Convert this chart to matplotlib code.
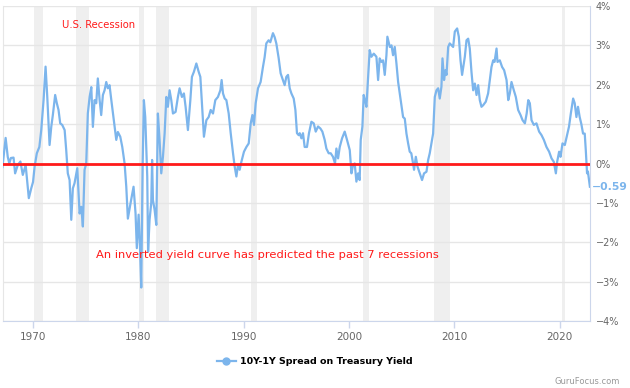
import numpy as np
import matplotlib
matplotlib.use("Agg")
import matplotlib.pyplot as plt
from matplotlib.lines import Line2D

# 10Y-1Y spread (%)
years = [
    1967.10, 1967.40, 1967.60, 1967.75, 1967.90, 1968.15, 1968.30, 1968.55, 1968.80, 1969.03,
    1969.30, 1969.60, 1969.83, 1970.00, 1970.15, 1970.36, 1970.60, 1970.78, 1971.00, 1971.19,
    1971.35, 1971.57, 1971.73, 1971.88, 1972.10, 1972.26, 1972.42, 1972.58, 1972.77, 1973.00,
    1973.15, 1973.30, 1973.47, 1973.63, 1973.78, 1973.94, 1974.20, 1974.42, 1974.58, 1974.73,
    1974.89, 1975.05, 1975.20, 1975.37, 1975.53, 1975.68, 1975.84, 1976.00, 1976.15, 1976.32,
    1976.47, 1976.63, 1976.79, 1976.95, 1977.10, 1977.26, 1977.43, 1977.67, 1977.90, 1978.05,
    1978.28, 1978.47, 1978.69, 1978.85, 1979.00, 1979.26, 1979.54, 1979.73, 1979.85, 1980.02,
    1980.14, 1980.27, 1980.40, 1980.52, 1980.65, 1980.84, 1980.92, 1981.06, 1981.22, 1981.30,
    1981.38, 1981.54, 1981.70, 1981.85, 1982.01, 1982.17, 1982.33, 1982.49, 1982.65, 1982.80,
    1982.96, 1983.12, 1983.28, 1983.53, 1983.75, 1983.91, 1984.13, 1984.32, 1984.48, 1984.70,
    1984.93, 1985.08, 1985.27, 1985.50, 1985.72, 1985.88, 1986.03, 1986.22, 1986.45, 1986.67,
    1986.86, 1987.08, 1987.30, 1987.55, 1987.78, 1987.90, 1988.03, 1988.19, 1988.35, 1988.57,
    1988.76, 1988.98, 1989.14, 1989.30, 1989.45, 1989.61, 1989.77, 1990.02, 1990.25, 1990.47,
    1990.66, 1990.82, 1990.97, 1991.13, 1991.35, 1991.60, 1991.82, 1991.98, 1992.14, 1992.36,
    1992.52, 1992.77, 1992.93, 1993.09, 1993.31, 1993.50, 1993.72, 1993.88, 1994.04, 1994.20,
    1994.36, 1994.52, 1994.74, 1994.90, 1995.05, 1995.21, 1995.31, 1995.47, 1995.62, 1995.78,
    1996.00, 1996.19, 1996.42, 1996.64, 1996.83, 1997.05, 1997.27, 1997.46, 1997.68, 1997.84,
    1998.06, 1998.25, 1998.47, 1998.66, 1998.79, 1998.95, 1999.11, 1999.33, 1999.58, 1999.80,
    2000.06, 2000.22, 2000.37, 2000.53, 2000.69, 2000.85, 2001.00, 2001.10, 2001.26, 2001.38,
    2001.54, 2001.64, 2001.80, 2001.95, 2002.11, 2002.34, 2002.59, 2002.75, 2002.90, 2003.07,
    2003.22, 2003.38, 2003.54, 2003.63, 2003.86, 2004.02, 2004.17, 2004.33, 2004.49, 2004.65,
    2004.80, 2004.97, 2005.12, 2005.28, 2005.44, 2005.60, 2005.75, 2005.90, 2006.07, 2006.16,
    2006.33, 2006.49, 2006.70, 2006.92, 2007.11, 2007.34, 2007.50, 2007.65, 2007.81, 2007.97,
    2008.13, 2008.29, 2008.45, 2008.60, 2008.76, 2008.86, 2009.01, 2009.14, 2009.24, 2009.40,
    2009.55, 2009.87, 2010.03, 2010.25, 2010.41, 2010.57, 2010.72, 2010.98, 2011.14, 2011.30,
    2011.45, 2011.61, 2011.77, 2011.93, 2012.09, 2012.25, 2012.40, 2012.56, 2012.72, 2012.97,
    2013.19, 2013.35, 2013.51, 2013.67, 2013.80, 2013.99, 2014.08, 2014.30, 2014.52, 2014.71,
    2014.94, 2015.10, 2015.25, 2015.41, 2015.63, 2015.82, 2016.04, 2016.27, 2016.46, 2016.68,
    2016.85, 2017.00, 2017.15, 2017.31, 2017.53, 2017.78, 2018.03, 2018.26, 2018.48, 2018.73,
    2018.98, 2019.21, 2019.43, 2019.62, 2019.74, 2019.93, 2020.06, 2020.25, 2020.47, 2020.68,
    2020.87, 2021.04, 2021.26, 2021.41, 2021.57, 2021.72, 2021.88, 2022.04, 2022.20, 2022.36,
    2022.46, 2022.58, 2022.66, 2022.77, 2022.85,
]
spread = [
    -0.09, 0.65, 0.17, 0.00, 0.14, 0.15, -0.25, -0.04, 0.05, -0.29,
    -0.04, -0.88, -0.63, -0.47, -0.08, 0.26, 0.42, 0.85, 1.61, 2.46,
    1.70, 0.47, 0.93, 1.23, 1.74, 1.53, 1.36, 1.02, 0.98, 0.85,
    0.34, -0.25, -0.42, -1.43, -0.63, -0.50, -0.12, -1.27, -1.10, -1.60,
    -0.16, 0.00, 1.27, 1.69, 1.94, 0.93, 1.61, 1.53, 2.16, 1.61,
    1.23, 1.74, 1.86, 2.07, 1.91, 1.99, 1.61, 1.10, 0.60, 0.80,
    0.68, 0.42, 0.00, -0.59, -1.40, -1.00, -0.59, -1.27, -2.15, -1.30,
    -2.03, -3.15, -0.08, 1.61, 1.18, -0.33, -2.24, -1.43, -1.00, 0.09,
    -0.93, -1.18, -1.56, 1.27, 0.60, -0.25, 0.17, 0.77, 1.69, 1.44,
    1.86, 1.61, 1.27, 1.31, 1.69, 1.91, 1.69, 1.78, 1.44, 0.85,
    1.61, 2.20, 2.33, 2.54, 2.33, 2.20, 1.53, 0.68, 1.10, 1.18,
    1.36, 1.27, 1.61, 1.69, 1.86, 2.12, 1.78, 1.65, 1.61, 1.27,
    0.77, 0.26, -0.08, -0.33, -0.04, -0.16, 0.04, 0.30, 0.42, 0.51,
    1.02, 1.23, 0.98, 1.53, 1.91, 2.07, 2.45, 2.70, 3.05, 3.13,
    3.08, 3.31, 3.21, 3.05, 2.68, 2.29, 2.12, 1.99, 2.20, 2.25,
    1.91, 1.78, 1.65, 1.36, 0.77, 0.72, 0.77, 0.64, 0.77, 0.42,
    0.42, 0.77, 1.06, 1.02, 0.81, 0.94, 0.89, 0.81, 0.60, 0.38,
    0.26, 0.26, 0.17, 0.00, 0.38, 0.13, 0.42, 0.64, 0.81, 0.60,
    0.34, -0.25, -0.04, 0.00, -0.46, -0.25, -0.42, 0.60, 0.94, 1.74,
    1.57, 1.44, 2.20, 2.88, 2.71, 2.79, 2.71, 2.12, 2.67, 2.58,
    2.62, 2.25, 2.75, 3.22, 2.96, 3.00, 2.75, 2.96, 2.54, 2.07,
    1.78, 1.44, 1.18, 1.14, 0.76, 0.51, 0.30, 0.26, 0.00, -0.16,
    0.17, -0.08, -0.25, -0.42, -0.25, -0.21, 0.09, 0.26, 0.51, 0.76,
    1.69, 1.86, 1.91, 1.65, 1.95, 2.67, 2.12, 2.37, 2.25, 2.96,
    3.05, 2.96, 3.35, 3.43, 3.22, 2.62, 2.25, 2.71, 3.13, 3.17,
    2.92, 2.33, 1.86, 2.03, 1.74, 1.99, 1.61, 1.44, 1.48, 1.57,
    1.78, 2.12, 2.45, 2.62, 2.58, 2.92, 2.58, 2.62, 2.45, 2.37,
    2.12, 1.61, 1.78, 2.07, 1.86, 1.69, 1.36, 1.23, 1.10, 1.02,
    1.27, 1.61, 1.53, 1.10, 0.98, 1.02, 0.81, 0.72, 0.60, 0.42,
    0.30, 0.13, 0.04, -0.25, 0.04, 0.30, 0.17, 0.51, 0.47, 0.72,
    0.94, 1.27, 1.65, 1.53, 1.18, 1.44, 1.18, 1.00, 0.76, 0.76,
    0.34, -0.25, -0.20, -0.42, -0.59,
]

# US recessions (start, end)
rec_start = [1970.1, 1974.1, 1980.1, 1981.7, 1990.7, 2001.3, 2008.05, 2020.2]
rec_end = [1970.9, 1975.3, 1980.5, 1982.95, 1991.3, 2001.9, 2009.55, 2020.45]

ytick_vals = [-4, -3, -2, -1, 0, 1, 2, 3, 4]
ytick_labels = ["\u22124%", "\u22123%", "\u22122%", "\u22121%", "0%", "1%", "2%", "3%", "4%"]
xtick_vals = [1970, 1980, 1990, 2000, 2010, 2020]

blue = "#7cb5ec"
fig = plt.figure(figsize=(6.3, 3.88), dpi=100)
ax = fig.add_axes([3 / 630, 67 / 388, 587 / 630, 315 / 388])

for s, e in zip(rec_start, rec_end):
    ax.axvspan(s, e, color="#efefef", lw=0, zorder=0)

ax.plot(years, spread, color=blue, lw=1.6, zorder=3)
ax.axhline(0, color="#ff1a1a", lw=2, zorder=4)

ax.set_xlim(1967.15, 2022.86)
ax.set_ylim(-4, 4)
ax.set_yticks(ytick_vals)
ax.set_yticklabels(ytick_labels)
ax.set_xticks(xtick_vals)
ax.yaxis.tick_right()
ax.grid(axis="y", color="#e6e6e6", lw=1, zorder=1)
ax.tick_params(axis="y", length=0, pad=4, labelsize=7, labelcolor="#666666")
ax.tick_params(axis="x", length=5, width=1, color="#ccd6eb", pad=3,
               labelsize=7.5, labelcolor="#666666")
ax.spines["top"].set_visible(False)
ax.spines["left"].set_color("#e6e6e6")
ax.spines["right"].set_color("#ccd6eb")
ax.spines["bottom"].set_color("#ccd6eb")

ax.text(1976.2, 3.52, "U.S. Recession", color="#ff1a1a", fontsize=7.2,
        ha="center", va="center")
ax.text(1976.0, -2.32, "An inverted yield curve has predicted the past 7 recessions",
        color="#ff1a1a", fontsize=8.25, ha="left", va="center")

# last value label
ax.text(1.004, (spread[-1] + 4) / 8, "\u22120.59", transform=ax.transAxes,
        color=blue, fontsize=7.8, fontweight="bold", ha="left", va="center",
        clip_on=False)

handle = Line2D([], [], color=blue, lw=1.6, marker="o", markersize=5)
fig.legend(handles=[handle], labels=["10Y-1Y Spread on Treasury Yield"],
           loc="center", bbox_to_anchor=(0.5, 1 - 362 / 388), frameon=False,
           prop={"weight": "bold", "size": 6.8}, handlelength=2, handletextpad=0.5)

fig.text(620 / 630, 1 - 381 / 388, "GuruFocus.com", color="#999999", fontsize=6,
         ha="right", va="center")

fig.savefig("out.png", dpi=100)
